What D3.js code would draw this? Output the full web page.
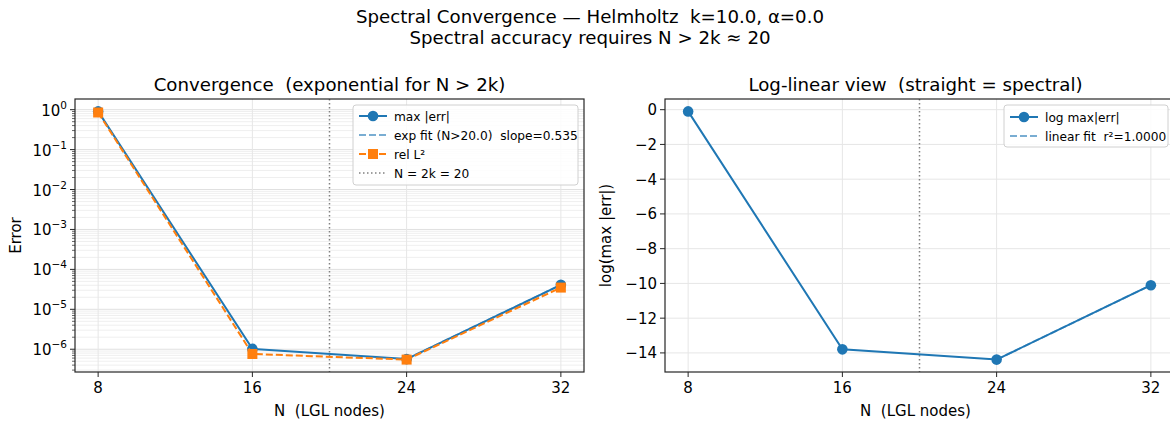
<!DOCTYPE html>
<html><head><meta charset="utf-8">
<script src="https://cdn.jsdelivr.net/npm/d3@7"></script>
<style>
body{margin:0;background:#fff;}
svg{font-family:"DejaVu Sans",sans-serif;}
text{white-space:pre;}
</style></head>
<body><svg id="chart" width="1170" height="422"></svg>
<script>
const N = [8, 16, 24, 32];
const maxErr = [0.905, 1.02e-6, 5.66e-7, 4.1e-5];
const relL2 = [0.85, 7.6e-7, 5.5e-7, 3.5e-5];
const logMaxErr = maxErr.map(Math.log);
const fitN = [24, 32];
const xTicks = [8, 16, 24, 32];
const yTicksLog = [0, -1, -2, -3, -4, -5, -6];
const yTicksLin = [0, -2, -4, -6, -8, -10, -12, -14];
const threshold = 20;
const titles = ["Spectral Convergence — Helmholtz  k=10.0, α=0.0", "Spectral accuracy requires N > 2k ≈ 20"];
const leftLegend = ["max |err|", "exp fit (N>20.0)  slope=0.535", "rel L²", "N = 2k = 20"];
const rightLegend = ["log max|err|", "linear fit  r²=1.0000"];

const BLUE = "#1f77b4", ORANGE = "#ff7f0e";
const svg = d3.select("#chart");
const TF = 18.2, TK = 15, LF = 12.2;

svg.append("text").attr("x", 590).attr("y", 23).attr("text-anchor", "middle").attr("font-size", TF).text(titles[0]);
svg.append("text").attr("x", 590).attr("y", 44).attr("text-anchor", "middle").attr("font-size", TF).text(titles[1]);

const TOP = 99, BOT = 372, W = 509;

function xScaleFor(left) {
  return d3.scaleLinear().domain([6.8, 33.2]).range([left, left + W]);
}

// ---------- Left panel ----------
{
  const L = 75;
  const x = xScaleFor(L);
  const all = maxErr.concat(relL2).map(Math.log10);
  const lo = d3.min(all), hi = d3.max(all), m = (hi - lo) * 0.05;
  const y = d3.scaleLog().domain([Math.pow(10, lo - m), Math.pow(10, hi + m)]).range([BOT, TOP]);
  const g = svg.append("g");
  g.append("defs").append("clipPath").attr("id", "clipL").append("rect").attr("x", L).attr("y", TOP).attr("width", W).attr("height", BOT - TOP);
  const minor = [];
  for (let e = -7; e <= 0; e++) for (let k = 2; k <= 9; k++) { const v = k * Math.pow(10, e); if (v >= y.domain()[0] && v <= y.domain()[1]) minor.push(v); }
  g.selectAll(".mg").data(minor).join("line").attr("x1", L).attr("x2", L + W).attr("y1", d => y(d)).attr("y2", d => y(d)).attr("stroke", "#ebebeb").attr("stroke-width", 0.8);
  g.selectAll(".Mg").data(yTicksLog).join("line").attr("x1", L).attr("x2", L + W).attr("y1", d => y(Math.pow(10, d))).attr("y2", d => y(Math.pow(10, d))).attr("stroke", "#e0e0e0").attr("stroke-width", 1);
  g.selectAll(".xg").data(xTicks).join("line").attr("x1", d => x(d)).attr("x2", d => x(d)).attr("y1", TOP).attr("y2", BOT).attr("stroke", "#e6e6e6").attr("stroke-width", 1);
  g.append("line").attr("x1", x(threshold)).attr("x2", x(threshold)).attr("y1", TOP).attr("y2", BOT).attr("stroke", "#808080").attr("stroke-width", 1.5).attr("stroke-dasharray", "1.5,2.5");
  const pl = g.append("g").attr("clip-path", "url(#clipL)");
  const lineB = d3.line().x((d, i) => x(N[i])).y(d => y(d));
  pl.append("path").datum(maxErr).attr("d", lineB).attr("fill", "none").attr("stroke", BLUE).attr("stroke-width", 2);
  pl.selectAll(".cb").data(maxErr).join("circle").attr("cx", (d, i) => x(N[i])).attr("cy", d => y(d)).attr("r", 5.3).attr("fill", BLUE);
  const fitVals = fitN.map(n => maxErr[N.indexOf(n)]);
  pl.append("path").datum(fitVals).attr("d", d3.line().x((d, i) => x(fitN[i])).y(d => y(d))).attr("fill", "none").attr("stroke", BLUE).attr("stroke-opacity", 0.6).attr("stroke-width", 2).attr("stroke-dasharray", "7,3");
  pl.append("path").datum(relL2).attr("d", lineB).attr("fill", "none").attr("stroke", ORANGE).attr("stroke-width", 2).attr("stroke-dasharray", "7,3");
  pl.selectAll(".sq").data(relL2).join("rect").attr("x", (d, i) => x(N[i]) - 5).attr("y", d => y(d) - 5).attr("width", 10).attr("height", 10).attr("fill", ORANGE);
  g.append("rect").attr("x", L).attr("y", TOP).attr("width", W).attr("height", BOT - TOP).attr("fill", "none").attr("stroke", "#262626").attr("stroke-width", 1.2);
  xTicks.forEach(t => {
    g.append("line").attr("x1", x(t)).attr("x2", x(t)).attr("y1", BOT).attr("y2", BOT + 5).attr("stroke", "#262626");
    g.append("text").attr("x", x(t)).attr("y", BOT + 21).attr("text-anchor", "middle").attr("font-size", TK).text(t);
  });
  yTicksLog.forEach(e => {
    const yy = y(Math.pow(10, e));
    g.append("line").attr("x1", L - 5).attr("x2", L).attr("y1", yy).attr("y2", yy).attr("stroke", "#262626");
    const t = g.append("text").attr("x", L - 8).attr("y", yy + 6).attr("text-anchor", "end").attr("font-size", TK);
    t.append("tspan").text("10");
    t.append("tspan").attr("dy", -7).attr("font-size", 10.5).text(e === 0 ? "0" : "−" + (-e));
  });
  minor.forEach(v => {
    g.append("line").attr("x1", L - 3).attr("x2", L).attr("y1", y(v)).attr("y2", y(v)).attr("stroke", "#262626").attr("stroke-width", 0.7);
  });
  g.append("text").attr("x", L + W / 2).attr("y", 91).attr("text-anchor", "middle").attr("font-size", TF).text("Convergence  (exponential for N > 2k)");
  g.append("text").attr("x", L + W / 2).attr("y", 416).attr("text-anchor", "middle").attr("font-size", TK).text("N  (LGL nodes)");
  g.append("text").attr("transform", `translate(21,${(TOP + BOT) / 2}) rotate(-90)`).attr("text-anchor", "middle").attr("font-size", TK).text("Error");
  const lg = g.append("g");
  lg.append("rect").attr("x", 353).attr("y", 105).attr("width", 225).attr("height", 80).attr("rx", 3).attr("fill", "#fff").attr("fill-opacity", 0.85).attr("stroke", "#d0d0d0");
  const ly = [116, 135, 154, 173];
  const lx0 = 359, lx1 = 387;
  lg.append("line").attr("x1", lx0).attr("x2", lx1).attr("y1", ly[0]).attr("y2", ly[0]).attr("stroke", BLUE).attr("stroke-width", 2);
  lg.append("circle").attr("cx", (lx0 + lx1) / 2).attr("cy", ly[0]).attr("r", 5.3).attr("fill", BLUE);
  lg.append("line").attr("x1", lx0).attr("x2", lx1).attr("y1", ly[1]).attr("y2", ly[1]).attr("stroke", BLUE).attr("stroke-opacity", 0.6).attr("stroke-width", 2).attr("stroke-dasharray", "7,3");
  lg.append("line").attr("x1", lx0).attr("x2", lx1).attr("y1", ly[2]).attr("y2", ly[2]).attr("stroke", ORANGE).attr("stroke-width", 2).attr("stroke-dasharray", "7,3");
  lg.append("rect").attr("x", (lx0 + lx1) / 2 - 5).attr("y", ly[2] - 5).attr("width", 10).attr("height", 10).attr("fill", ORANGE);
  lg.append("line").attr("x1", lx0).attr("x2", lx1).attr("y1", ly[3]).attr("y2", ly[3]).attr("stroke", "#808080").attr("stroke-width", 1.5).attr("stroke-dasharray", "1.5,2.5");
  leftLegend.forEach((s, i) => lg.append("text").attr("x", 394).attr("y", ly[i] + 4.5).attr("font-size", LF).text(s));
}

// ---------- Right panel ----------
{
  const L = 665;
  const x = xScaleFor(L);
  const lo = d3.min(logMaxErr), hi = d3.max(logMaxErr), m = (hi - lo) * 0.05;
  const y = d3.scaleLinear().domain([lo - m, hi + m]).range([BOT, TOP]);
  const g = svg.append("g");
  g.selectAll(".yg").data(yTicksLin).join("line").attr("x1", L).attr("x2", L + W).attr("y1", d => y(d)).attr("y2", d => y(d)).attr("stroke", "#e6e6e6").attr("stroke-width", 1);
  g.selectAll(".xg").data(xTicks).join("line").attr("x1", d => x(d)).attr("x2", d => x(d)).attr("y1", TOP).attr("y2", BOT).attr("stroke", "#e6e6e6").attr("stroke-width", 1);
  g.append("line").attr("x1", x(threshold)).attr("x2", x(threshold)).attr("y1", TOP).attr("y2", BOT).attr("stroke", "#808080").attr("stroke-width", 1.5).attr("stroke-dasharray", "1.5,2.5");
  const line = d3.line().x((d, i) => x(N[i])).y(d => y(d));
  g.append("path").datum(logMaxErr).attr("d", line).attr("fill", "none").attr("stroke", BLUE).attr("stroke-width", 2);
  const fitVals = fitN.map(n => logMaxErr[N.indexOf(n)]);
  g.append("path").datum(fitVals).attr("d", d3.line().x((d, i) => x(fitN[i])).y(d => y(d))).attr("fill", "none").attr("stroke", BLUE).attr("stroke-opacity", 0.6).attr("stroke-width", 2).attr("stroke-dasharray", "7,3");
  g.selectAll(".cb").data(logMaxErr).join("circle").attr("cx", (d, i) => x(N[i])).attr("cy", d => y(d)).attr("r", 5.3).attr("fill", BLUE);
  g.append("rect").attr("x", L).attr("y", TOP).attr("width", W).attr("height", BOT - TOP).attr("fill", "none").attr("stroke", "#262626").attr("stroke-width", 1.2);
  xTicks.forEach(t => {
    g.append("line").attr("x1", x(t)).attr("x2", x(t)).attr("y1", BOT).attr("y2", BOT + 5).attr("stroke", "#262626");
    g.append("text").attr("x", x(t)).attr("y", BOT + 21).attr("text-anchor", "middle").attr("font-size", TK).text(t);
  });
  yTicksLin.forEach(v => {
    g.append("line").attr("x1", L - 5).attr("x2", L).attr("y1", y(v)).attr("y2", y(v)).attr("stroke", "#262626");
    g.append("text").attr("x", L - 8).attr("y", y(v) + 5.5).attr("text-anchor", "end").attr("font-size", TK).text(v < 0 ? "−" + (-v) : v);
  });
  g.append("text").attr("x", L + W / 2 - 4).attr("y", 91).attr("text-anchor", "middle").attr("font-size", TF).text("Log-linear view  (straight = spectral)");
  g.append("text").attr("x", L + W / 2 - 4).attr("y", 416).attr("text-anchor", "middle").attr("font-size", TK).text("N  (LGL nodes)");
  g.append("text").attr("transform", `translate(611,${(TOP + BOT) / 2}) rotate(-90)`).attr("text-anchor", "middle").attr("font-size", TK).text("log(max |err|)");
  const lg = g.append("g");
  lg.append("rect").attr("x", 1004).attr("y", 105).attr("width", 164).attr("height", 42).attr("rx", 3).attr("fill", "#fff").attr("fill-opacity", 0.85).attr("stroke", "#d0d0d0");
  const ly = [117, 136];
  const lx0 = 1010, lx1 = 1038;
  lg.append("line").attr("x1", lx0).attr("x2", lx1).attr("y1", ly[0]).attr("y2", ly[0]).attr("stroke", BLUE).attr("stroke-width", 2);
  lg.append("circle").attr("cx", (lx0 + lx1) / 2).attr("cy", ly[0]).attr("r", 5.3).attr("fill", BLUE);
  lg.append("line").attr("x1", lx0).attr("x2", lx1).attr("y1", ly[1]).attr("y2", ly[1]).attr("stroke", BLUE).attr("stroke-opacity", 0.6).attr("stroke-width", 2).attr("stroke-dasharray", "7,3");
  rightLegend.forEach((s, i) => lg.append("text").attr("x", 1045).attr("y", ly[i] + 4.5).attr("font-size", LF).text(s));
}
</script></body></html>
